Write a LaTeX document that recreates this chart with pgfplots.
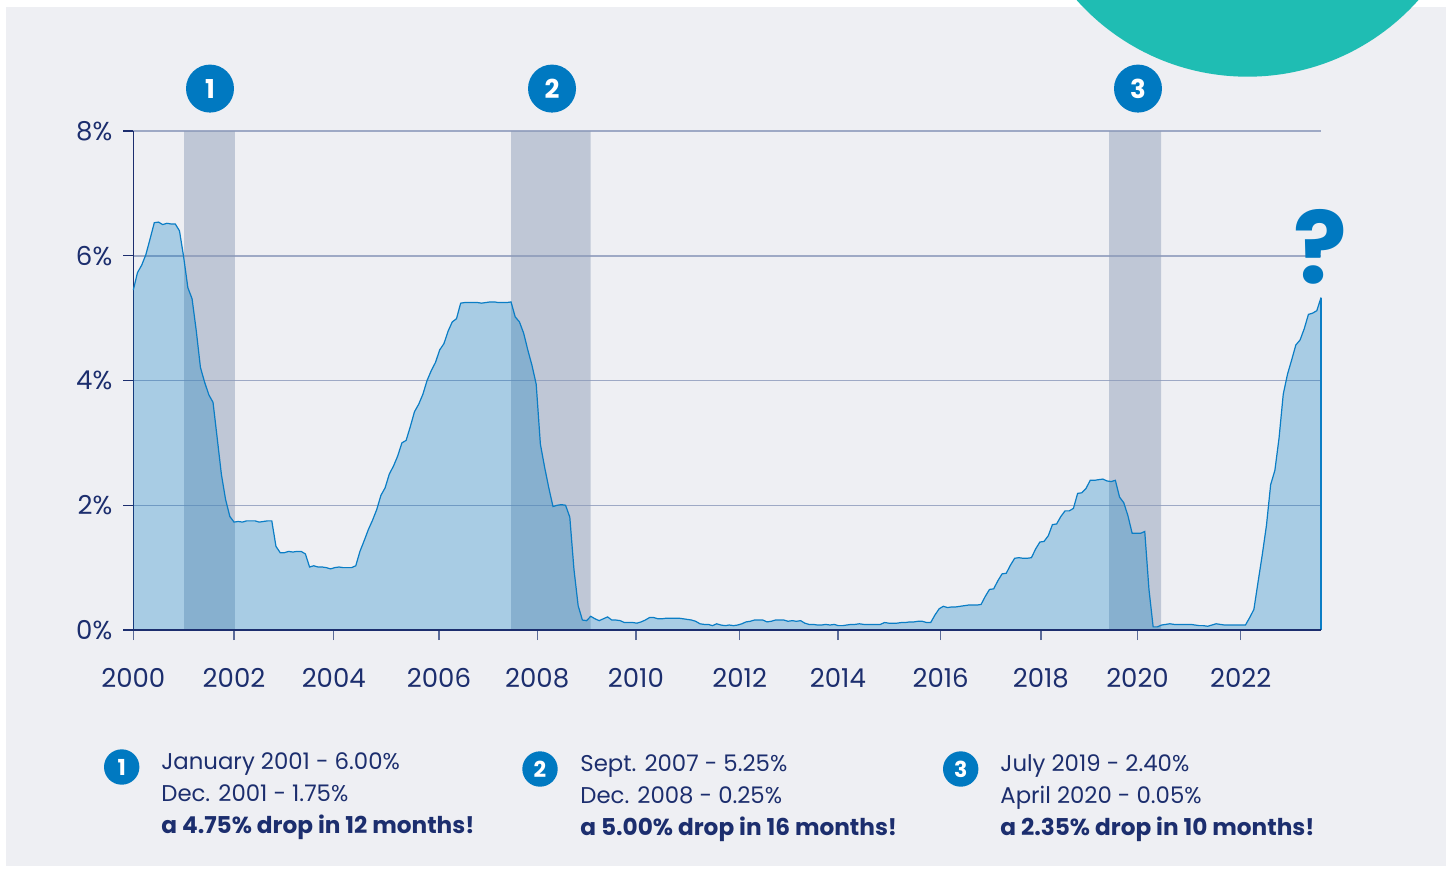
\documentclass[border=0pt]{standalone}
\usepackage{fontspec}
\setmainfont{Poppins}
\usepackage{pgfplots}
\usepackage{pgfplotstable}
\pgfplotsset{compat=1.18}
\definecolor{panel}{HTML}{EEEFF3}
\definecolor{navy}{HTML}{1C2E6E}
\definecolor{gridc}{HTML}{9EA9C5}
\definecolor{tickc}{HTML}{5A6B9A}
\definecolor{lineblue}{HTML}{0A7DC5}
\definecolor{areablue}{HTML}{0078C0}
\definecolor{bandc}{RGB}{140,156,184}
\definecolor{markc}{HTML}{0079C1}
\definecolor{tealc}{HTML}{1FBDB3}
\pgfplotstableread[row sep=\\]{
x y\\
2000.000 5.45\\ 2000.083 5.73\\ 2000.167 5.85\\ 2000.250 6.02\\ 2000.333 6.27\\ 2000.417 6.53\\ 2000.500 6.54\\ 2000.583 6.50\\ 2000.667 6.52\\ 2000.750 6.51\\ 2000.833 6.51\\ 2000.917 6.40\\
2001.000 5.98\\ 2001.083 5.49\\ 2001.167 5.31\\ 2001.250 4.80\\ 2001.333 4.21\\ 2001.417 3.97\\ 2001.500 3.77\\ 2001.583 3.65\\ 2001.667 3.07\\ 2001.750 2.49\\ 2001.833 2.09\\ 2001.917 1.82\\
2002.000 1.73\\ 2002.083 1.74\\ 2002.167 1.73\\ 2002.250 1.75\\ 2002.333 1.75\\ 2002.417 1.75\\ 2002.500 1.73\\ 2002.583 1.74\\ 2002.667 1.75\\ 2002.750 1.75\\ 2002.833 1.34\\ 2002.917 1.24\\
2003.000 1.24\\ 2003.083 1.26\\ 2003.167 1.25\\ 2003.250 1.26\\ 2003.333 1.26\\ 2003.417 1.22\\ 2003.500 1.01\\ 2003.583 1.03\\ 2003.667 1.01\\ 2003.750 1.01\\ 2003.833 1.00\\ 2003.917 0.98\\
2004.000 1.00\\ 2004.083 1.01\\ 2004.167 1.00\\ 2004.250 1.00\\ 2004.333 1.00\\ 2004.417 1.03\\ 2004.500 1.26\\ 2004.583 1.43\\ 2004.667 1.61\\ 2004.750 1.76\\ 2004.833 1.93\\ 2004.917 2.16\\
2005.000 2.28\\ 2005.083 2.50\\ 2005.167 2.63\\ 2005.250 2.79\\ 2005.333 3.00\\ 2005.417 3.04\\ 2005.500 3.26\\ 2005.583 3.50\\ 2005.667 3.62\\ 2005.750 3.78\\ 2005.833 4.00\\ 2005.917 4.16\\
2006.000 4.29\\ 2006.083 4.49\\ 2006.167 4.59\\ 2006.250 4.79\\ 2006.333 4.94\\ 2006.417 4.99\\ 2006.500 5.24\\ 2006.583 5.25\\ 2006.667 5.25\\ 2006.750 5.25\\ 2006.833 5.25\\ 2006.917 5.24\\
2007.000 5.25\\ 2007.083 5.26\\ 2007.167 5.26\\ 2007.250 5.25\\ 2007.333 5.25\\ 2007.417 5.25\\ 2007.500 5.26\\ 2007.583 5.02\\ 2007.667 4.94\\ 2007.750 4.76\\ 2007.833 4.49\\ 2007.917 4.24\\
2008.000 3.94\\ 2008.083 2.98\\ 2008.167 2.61\\ 2008.250 2.28\\ 2008.333 1.98\\ 2008.417 2.00\\ 2008.500 2.01\\ 2008.583 2.00\\ 2008.667 1.81\\ 2008.750 0.97\\ 2008.833 0.39\\ 2008.917 0.16\\
2009.000 0.15\\ 2009.083 0.22\\ 2009.167 0.18\\ 2009.250 0.15\\ 2009.333 0.18\\ 2009.417 0.21\\ 2009.500 0.16\\ 2009.583 0.16\\ 2009.667 0.15\\ 2009.750 0.12\\ 2009.833 0.12\\ 2009.917 0.12\\
2010.000 0.11\\ 2010.083 0.13\\ 2010.167 0.16\\ 2010.250 0.20\\ 2010.333 0.20\\ 2010.417 0.18\\ 2010.500 0.18\\ 2010.583 0.19\\ 2010.667 0.19\\ 2010.750 0.19\\ 2010.833 0.19\\ 2010.917 0.18\\
2011.000 0.17\\ 2011.083 0.16\\ 2011.167 0.14\\ 2011.250 0.10\\ 2011.333 0.09\\ 2011.417 0.09\\ 2011.500 0.07\\ 2011.583 0.10\\ 2011.667 0.08\\ 2011.750 0.07\\ 2011.833 0.08\\ 2011.917 0.07\\
2012.000 0.08\\ 2012.083 0.10\\ 2012.167 0.13\\ 2012.250 0.14\\ 2012.333 0.16\\ 2012.417 0.16\\ 2012.500 0.16\\ 2012.583 0.13\\ 2012.667 0.14\\ 2012.750 0.16\\ 2012.833 0.16\\ 2012.917 0.16\\
2013.000 0.14\\ 2013.083 0.15\\ 2013.167 0.14\\ 2013.250 0.15\\ 2013.333 0.11\\ 2013.417 0.09\\ 2013.500 0.09\\ 2013.583 0.08\\ 2013.667 0.08\\ 2013.750 0.09\\ 2013.833 0.08\\ 2013.917 0.09\\
2014.000 0.07\\ 2014.083 0.07\\ 2014.167 0.08\\ 2014.250 0.09\\ 2014.333 0.09\\ 2014.417 0.10\\ 2014.500 0.09\\ 2014.583 0.09\\ 2014.667 0.09\\ 2014.750 0.09\\ 2014.833 0.09\\ 2014.917 0.12\\
2015.000 0.11\\ 2015.083 0.11\\ 2015.167 0.11\\ 2015.250 0.12\\ 2015.333 0.12\\ 2015.417 0.13\\ 2015.500 0.13\\ 2015.583 0.14\\ 2015.667 0.14\\ 2015.750 0.12\\ 2015.833 0.12\\ 2015.917 0.24\\
2016.000 0.34\\ 2016.083 0.38\\ 2016.167 0.36\\ 2016.250 0.37\\ 2016.333 0.37\\ 2016.417 0.38\\ 2016.500 0.39\\ 2016.583 0.40\\ 2016.667 0.40\\ 2016.750 0.40\\ 2016.833 0.41\\ 2016.917 0.54\\
2017.000 0.65\\ 2017.083 0.66\\ 2017.167 0.79\\ 2017.250 0.90\\ 2017.333 0.91\\ 2017.417 1.04\\ 2017.500 1.15\\ 2017.583 1.16\\ 2017.667 1.15\\ 2017.750 1.15\\ 2017.833 1.16\\ 2017.917 1.30\\
2018.000 1.41\\ 2018.083 1.42\\ 2018.167 1.51\\ 2018.250 1.69\\ 2018.333 1.70\\ 2018.417 1.82\\ 2018.500 1.91\\ 2018.583 1.91\\ 2018.667 1.95\\ 2018.750 2.19\\ 2018.833 2.20\\ 2018.917 2.27\\
2019.000 2.40\\ 2019.083 2.40\\ 2019.167 2.41\\ 2019.250 2.42\\ 2019.333 2.39\\ 2019.417 2.38\\ 2019.500 2.40\\ 2019.583 2.13\\ 2019.667 2.04\\ 2019.750 1.83\\ 2019.833 1.55\\ 2019.917 1.55\\
2020.000 1.55\\ 2020.083 1.58\\ 2020.167 0.65\\ 2020.250 0.05\\ 2020.333 0.05\\ 2020.417 0.08\\ 2020.500 0.09\\ 2020.583 0.10\\ 2020.667 0.09\\ 2020.750 0.09\\ 2020.833 0.09\\ 2020.917 0.09\\
2021.000 0.09\\ 2021.083 0.08\\ 2021.167 0.07\\ 2021.250 0.07\\ 2021.333 0.06\\ 2021.417 0.08\\ 2021.500 0.10\\ 2021.583 0.09\\ 2021.667 0.08\\ 2021.750 0.08\\ 2021.833 0.08\\ 2021.917 0.08\\
2022.000 0.08\\ 2022.083 0.08\\ 2022.167 0.20\\ 2022.250 0.33\\ 2022.333 0.77\\ 2022.417 1.21\\ 2022.500 1.68\\ 2022.583 2.33\\ 2022.667 2.56\\ 2022.750 3.08\\ 2022.833 3.78\\ 2022.917 4.10\\
2023.000 4.33\\ 2023.083 4.57\\ 2023.167 4.65\\ 2023.250 4.83\\ 2023.333 5.06\\ 2023.417 5.08\\ 2023.500 5.12\\ 2023.583 5.33\\
}\ratedata
\begin{document}
\begin{tikzpicture}
\useasboundingbox (0,0) rectangle (724.5pt,-436.5pt);
\begin{scope}[x=0.5pt,y=-0.5pt]
\fill[white] (0,0) rectangle (1449,873);
\fill[panel] (6,7) rectangle (1446,866);
\begin{scope}
\clip (0,0) rectangle (1449,873);
\fill[tealc] (1247.5,-152.2) circle[radius=228.9];
\end{scope}
\end{scope}
\begin{axis}[
  at={(66.65pt,-315pt)}, anchor=south west,
  scale only axis, width=593.85pt, height=249.5pt,
  xmin=2000, xmax=2023.583, ymin=0, ymax=8,
  clip=false,
  axis x line*=bottom, axis y line*=left,
  axis line style={navy, line width=0.7pt},
  ymajorgrids, grid style={gridc, line width=0.75pt},
  tick align=outside, major tick length=5pt,
  xtick style={tickc, line width=0.7pt},
  ytick style={navy, line width=0.7pt},
  xtick={2000,2002,2003.98,2006.07,2008.02,2009.98,2012.04,2013.99,2016.03,2018.02,2019.94,2021.99},
  xticklabels={2000,2002,2004,2006,2008,2010,2012,2014,2016,2018,2020,2022},
  ytick={0,2,4,6,8},
  yticklabels={0\%,2\%,4\%,6\%,8\%},
  ticklabel style={text=navy, font=\fontsize{13}{13}\selectfont},
  xticklabel style={anchor=base, yshift=-23.5pt},
  yticklabel style={anchor=east, xshift=-2pt},
]
\addplot[draw=none, fill=bandc, fill opacity=0.48] coordinates {(2001.007,0)(2001.007,8)(2002.019,8)(2002.019,0)} \closedcycle;
\addplot[draw=none, fill=bandc, fill opacity=0.48] coordinates {(2007.500,0)(2007.500,8)(2009.082,8)(2009.082,0)} \closedcycle;
\addplot[draw=none, fill=bandc, fill opacity=0.48] coordinates {(2019.374,0)(2019.374,8)(2020.407,8)(2020.407,0)} \closedcycle;
\addplot[draw=none, fill=areablue, fill opacity=0.29] table[x=x,y=y] {\ratedata} \closedcycle;
\addplot[lineblue, line width=0.6pt] table[x=x,y=y] {\ratedata};
\addplot[lineblue, line width=0.6pt] coordinates {(2023.583,5.33)(2023.583,0)};
\draw[navy, line width=0.7pt] (axis cs:2000,0) -- (axis cs:2023.583,0);
\node[circle, fill=markc, minimum size=24pt, inner sep=0pt, text=white, font=\bfseries\fontsize{13}{13}\selectfont] at (axis cs:2001.523,8.68) {1};
\node[circle, fill=markc, minimum size=24pt, inner sep=0pt, text=white, font=\bfseries\fontsize{13}{13}\selectfont] at (axis cs:2008.314,8.68) {2};
\node[circle, fill=markc, minimum size=24pt, inner sep=0pt, text=white, font=\bfseries\fontsize{13}{13}\selectfont] at (axis cs:2019.949,8.68) {3};
\end{axis}
\begin{scope}[x=0.5pt,y=-0.5pt]
\node[anchor=base, text=markc, font=\bfseries\fontsize{50}{50}\selectfont] at (1320,283) {?};
\tikzset{num/.style={circle, fill=markc, minimum size=17.7pt, inner sep=0pt, text=white, font=\bfseries\fontsize{11}{11}\selectfont},
         ann/.style={anchor=base west, text=navy, inner sep=0pt, font=\fontsize{11.4}{11.4}\selectfont},
         annb/.style={anchor=base west, text=navy, inner sep=0pt, font=\bfseries\fontsize{11.6}{11.6}\selectfont}}
\node[num] at (121.7,767) {1};
\node[ann] at (161,769) {January 2001 - 6.00\%};
\node[ann] at (161,801) {Dec. 2001 - 1.75\%};
\node[annb] at (161,833) {a 4.75\% drop in 12 months!};
\node[num] at (540,769) {2};
\node[ann] at (580,771.5) {Sept. 2007 - 5.25\%};
\node[ann] at (580,803.5) {Dec. 2008 - 0.25\%};
\node[annb] at (580,835.5) {a 5.00\% drop in 16 months!};
\node[num] at (960.7,769) {3};
\node[ann] at (1000,771.5) {July 2019 - 2.40\%};
\node[ann] at (1000,803.5) {April 2020 - 0.05\%};
\node[annb] at (1000,835.5) {a 2.35\% drop in 10 months!};
\end{scope}
\end{tikzpicture}
\end{document}
